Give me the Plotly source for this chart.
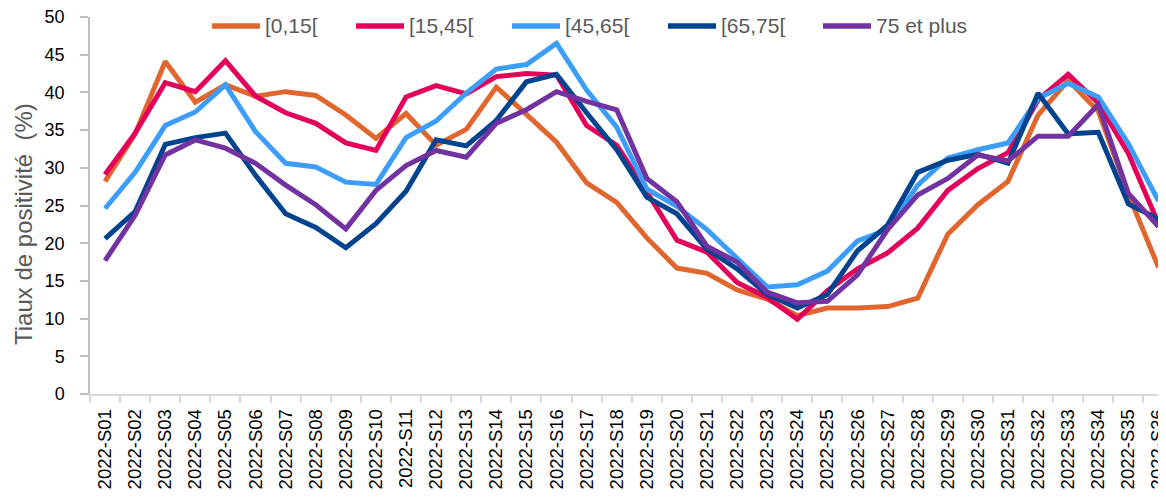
import plotly.graph_objects as go

weeks = [f"2022-S{i:02d}" for i in range(1, 37)]

age_0_15 = [28.2, 34.5, 44.1, 38.7, 41.0, 39.5, 40.1, 39.6, 37.0, 33.9, 37.2, 33.0,
            35.1, 40.7, 37.1, 33.4, 28.0, 25.4, 20.7, 16.7, 16.0, 13.8, 12.6, 10.4,
            11.4, 11.4, 11.6, 12.7, 21.2, 25.1, 28.2, 37.0, 41.6, 37.5, 26.5, 16.8]
age_15_45 = [29.1, 34.6, 41.3, 40.1, 44.2, 39.5, 37.3, 35.9, 33.3, 32.3, 39.4, 40.9,
             39.8, 42.1, 42.5, 42.3, 35.6, 33.0, 26.8, 20.4, 18.8, 14.8, 12.8, 9.9,
             13.7, 16.6, 18.7, 22.0, 27.0, 29.9, 32.0, 39.0, 42.4, 38.6, 31.9, 22.6]
age_45_65 = [24.6, 29.4, 35.6, 37.4, 41.0, 34.8, 30.6, 30.1, 28.1, 27.8, 34.0, 36.2,
             39.9, 43.1, 43.7, 46.5, 40.3, 35.4, 27.2, 24.9, 21.8, 18.0, 14.2, 14.5,
             16.3, 20.3, 21.8, 27.7, 31.3, 32.4, 33.3, 39.2, 41.2, 39.4, 33.2, 25.6]
age_65_75 = [20.6, 24.2, 33.1, 34.0, 34.6, 29.0, 23.9, 22.1, 19.4, 22.6, 26.9, 33.7,
             32.9, 36.3, 41.4, 42.4, 37.3, 32.4, 26.1, 23.9, 19.2, 16.6, 13.2, 11.4,
             13.2, 19.0, 22.4, 29.4, 31.0, 31.8, 30.6, 39.9, 34.5, 34.7, 25.2, 23.2]
age_75_plus = [17.7, 23.7, 31.7, 33.7, 32.6, 30.6, 27.7, 25.1, 21.9, 27.0, 30.3, 32.3,
               31.4, 35.9, 37.7, 40.1, 38.8, 37.7, 28.6, 25.5, 19.6, 17.5, 13.5, 12.1,
               12.3, 15.8, 21.8, 26.4, 28.6, 31.7, 30.9, 34.2, 34.2, 38.4, 26.6, 22.2]

series_names = ["[0,15[", "[15,45[", "[45,65[", "[65,75[", "75 et plus"]
series_values = [age_0_15, age_15_45, age_45_65, age_65_75, age_75_plus]
series_colors = ["#E0662D", "#E4005A", "#3C9EFA", "#00448F", "#7232A0"]

# The page has an 8px body margin; size the figure so it ends at the window edges.
OFF = 8
W, H = 1166 - OFF, 499 - OFF
ML, MR, MT, MB = 90 - OFF, 0, 17 - OFF, 105
PW, PH = W - ML - MR, H - MT - MB

def px_x(px):  # page pixel -> paper fraction
    return (px - OFF - ML) / PW

def px_y(py):
    return 1 - (py - OFF - MT) / PH

fig = go.Figure()
for name, vals, col in zip(series_names, series_values, series_colors):
    fig.add_trace(go.Scatter(
        x=weeks, y=vals, name=name, mode="lines",
        line=dict(color=col, width=5, shape="linear"),
        showlegend=False,
    ))

font_family = "Liberation Sans, Arial, sans-serif"

# manual legend (line sample + label), positions in page pixels
legend_line_x = [212, 356, 512, 668, 823]
legend_line_len = 48
legend_y = 26
shapes = []
annotations = []
for name, col, lx in zip(series_names, series_colors, legend_line_x):
    shapes.append(dict(type="line", xref="paper", yref="paper",
                       x0=px_x(lx), x1=px_x(lx + legend_line_len),
                       y0=px_y(legend_y), y1=px_y(legend_y),
                       line=dict(color=col, width=5.5)))
    annotations.append(dict(text=name, xref="paper", yref="paper",
                            x=px_x(lx + legend_line_len + 3), y=px_y(legend_y),
                            xanchor="left", yanchor="middle", showarrow=False,
                            font=dict(size=21, color="#595959", family=font_family)))

annotations.append(dict(text="Tiaux de positivité  (%)", xref="paper", yref="paper",
                        x=px_x(23), y=px_y(224), textangle=-90,
                        xanchor="center", yanchor="middle", showarrow=False,
                        font=dict(size=24, color="#595959", family=font_family)))

fig.update_layout(
    width=W, height=H,
    margin=dict(l=ML, r=MR, t=MT, b=MB, pad=0, autoexpand=False),
    paper_bgcolor="white", plot_bgcolor="white",
    font=dict(family=font_family, color="#000000", size=17),
    showlegend=False,
    shapes=shapes,
    annotations=annotations,
    xaxis=dict(
        type="category", range=[-0.5, 35.25],
        showgrid=False, zeroline=False,
        showline=True, linecolor="#D9D9D9", linewidth=1.5,
        ticks="outside", tickson="boundaries", ticklen=7, tickcolor="#D9D9D9", tickwidth=1.5,
        tickangle=-90, tickfont=dict(size=18.5, color="#000000"),
        ticklabelstandoff=6, automargin=False, ticklabeloverflow="allow",
    ),
    yaxis=dict(
        range=[0, 50], dtick=5, tick0=0,
        showgrid=False, zeroline=False,
        showline=True, linecolor="#BFBFBF", linewidth=1.5,
        ticks="outside", ticklen=8, tickcolor="#BFBFBF", tickwidth=1.5,
        tickfont=dict(size=18, color="#000000"),
        ticklabelstandoff=12, automargin=False, ticklabeloverflow="allow",
    ),
)

fig.write_html("out.html")
